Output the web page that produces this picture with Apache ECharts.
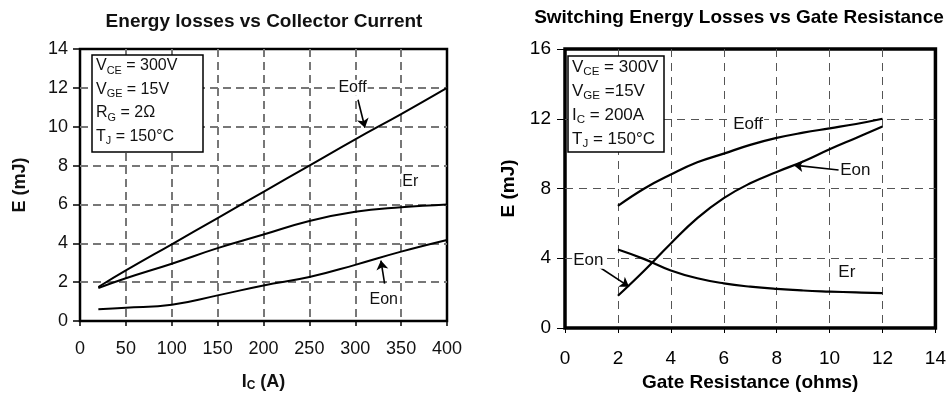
<!DOCTYPE html>
<html>
<head>
<meta charset="utf-8">
<script src="https://cdn.jsdelivr.net/npm/echarts@6/dist/echarts.min.js"></script>
<style>
  html, body { margin: 0; padding: 0; background: #fff; }
  #chart { width: 949px; height: 397px; }
</style>
</head>
<body>
<div id="chart"></div>
<script>
// left chart: energy vs collector current
var currentA = [20, 50, 100, 150, 200, 250, 300, 350, 400];
var leftEoff = [1.75, 2.6, 3.95, 5.3, 6.65, 8.0, 9.35, 10.65, 12.0];
var leftEr = [1.7, 2.2, 2.95, 3.75, 4.45, 5.15, 5.62, 5.85, 6.0];
var leftEon = [0.6, 0.68, 0.84, 1.32, 1.83, 2.26, 2.89, 3.57, 4.17];

// right chart: energy vs gate resistance
var gateOhms = [2, 3, 4, 5, 6, 7, 8, 9, 10, 11, 12];
var rightEoff = [7.0, 8.0, 8.8, 9.5, 10.0, 10.5, 10.9, 11.2, 11.45, 11.7, 12.0];
var rightEon = [1.85, 3.3, 4.85, 6.3, 7.45, 8.3, 8.95, 9.55, 10.25, 10.9, 11.55];
var rightEr = [4.5, 3.95, 3.3, 2.85, 2.56, 2.37, 2.24, 2.15, 2.09, 2.04, 2.0];

// curve labels and arrows (data coordinates)
var leftLabels = [['Eoff', 297, 12.0], ['Er', 360, 7.2], ['Eon', 331, 1.12]];
var leftArrows = [[[303, 11.39], [310.6, 9.95]], [[332, 1.92], [328, 3.11]]];
var rightLabels = [['Eoff', 6.92, 11.7], ['Eon', 10.97, 9.06], ['Eon', 0.88, 3.88], ['Er', 10.65, 3.22]];
var rightArrows = [[[10.34, 9.06], [8.65, 9.34]], [[1.25, 3.54], [2.42, 2.37]]];

// test conditions: [symbol, subscript, rest]
var leftCond = [['V', 'CE', ' = 300V'], ['V', 'GE', ' = 15V'], ['R', 'G', ' = 2Ω'], ['T', 'J', ' = 150°C']];
var rightCond = [['V', 'CE', ' = 300V'], ['V', 'GE', ' =15V'], ['I', 'C', ' = 200A'], ['T', 'J', ' = 150°C']];

var FONT = 'Liberation Sans, Arial, sans-serif';

function toPairs(xs, ys) {
	return xs.map(function(x, i) { return [x, ys[i]]; });
}

function curve(name, idx, xs, ys, width) {
	return {
		name: name,
		type: 'line',
		xAxisIndex: idx,
		yAxisIndex: idx,
		data: toPairs(xs, ys),
		smooth: 0.45,
		showSymbol: false,
		lineStyle: { color: '#000', width: width },
		z: 3
	};
}

function marks(labels, arrows, size) {
	return {
		markPoint: {
			symbol: 'circle',
			symbolSize: 1,
			itemStyle: { color: 'transparent' },
			label: {
				show: true,
				position: 'inside',
				formatter: '{b}',
				color: '#111',
				fontSize: size,
				fontFamily: FONT,
				backgroundColor: '#fff',
				padding: [0, 1]
			},
			data: labels.map(function(l) { return { name: l[0], coord: [l[1], l[2]] }; })
		},
		markLine: {
			silent: true,
			symbol: ['none', 'arrow'],
			symbolSize: 9,
			lineStyle: { color: '#000', width: 1.6, type: 'solid' },
			label: { show: false },
			data: arrows.map(function(a) { return [{ coord: a[0] }, { coord: a[1] }]; })
		}
	};
}

function condBox(x, y, w, h, lines, step, size) {
	var children = [{
		type: 'rect',
		z: 100,
		shape: { x: 0, y: 0, width: w, height: h },
		style: { fill: '#fff', stroke: '#000', lineWidth: 1.5 }
	}];
	lines.forEach(function(l, i) {
		children.push({
			type: 'text',
			z: 101,
			x: 4,
			y: 11 + i * step,
			style: {
				text: '{n|' + l[0] + '}{s|' + l[1] + '}{n|' + l[2] + '}',
				verticalAlign: 'middle',
				rich: {
					n: { fontSize: size, fontFamily: FONT, fill: '#111', lineHeight: 20 },
					s: { fontSize: size * 0.68, fontFamily: FONT, fill: '#111', lineHeight: 20, padding: [9, 0, 0, 0] }
				}
			}
		});
	});
	return { type: 'group', x: x, y: y, z: 100, children: children };
}

var axisTextL = { color: '#111', fontSize: 18, fontFamily: FONT };
var axisTextR = { color: '#000', fontSize: 19, fontFamily: FONT };
var nameTextL = { color: '#111', fontSize: 18, fontWeight: 'bold', fontFamily: FONT };
var nameTextR = { color: '#000', fontSize: 19, fontWeight: 'bold', fontFamily: FONT };

var left = marks(leftLabels, leftArrows, 16);
var right = marks(rightLabels, rightArrows, 17);

var eoffL = curve('Eoff', 0, currentA, leftEoff, 2);
eoffL.markPoint = left.markPoint;
eoffL.markLine = left.markLine;
var eoffR = curve('Eoff', 1, gateOhms, rightEoff, 2.2);
eoffR.markPoint = right.markPoint;
eoffR.markLine = right.markLine;

var splitL = { show: true, showMinLine: false, showMaxLine: false, lineStyle: { color: '#777', width: 2, type: [8, 5] } };
var splitR = { show: true, showMinLine: false, showMaxLine: false, lineStyle: { color: '#555', width: 1, type: [8, 6] } };

var option = {
	animation: false,
	backgroundColor: '#fff',
	grid: [
		{ left: 80, top: 49, width: 367, height: 273.5, show: true, borderColor: '#000', borderWidth: 2.5 },
		{ left: 565, top: 49, width: 372, height: 283, show: true, borderColor: '#000', borderWidth: 3.5 }
	],
	xAxis: [{
		gridIndex: 0, type: 'value', min: 0, max: 400, interval: 50,
		name: '{b|I}{s|C}{b| (A)}', nameLocation: 'middle', nameGap: 51,
		nameTextStyle: {
			rich: {
				b: nameTextL,
				s: { color: '#111', fontSize: 12, fontWeight: 'bold', fontFamily: FONT, padding: [8, 0, 0, 0] }
			}
		},
		axisLine: { show: false },
		axisTick: { show: true, length: 5, lineStyle: { color: '#000', width: 1.5 } },
		axisLabel: Object.assign({ margin: 19 }, axisTextL),
		splitLine: splitL
	}, {
		gridIndex: 1, type: 'value', min: 0, max: 14, interval: 2,
		name: 'Gate Resistance (ohms)', nameLocation: 'middle', nameGap: 45,
		nameTextStyle: nameTextR,
		axisLine: { show: false },
		axisTick: { show: true, length: 5, lineStyle: { color: '#000', width: 1 } },
		axisLabel: Object.assign({ margin: 21 }, axisTextR),
		splitLine: splitR
	}],
	yAxis: [{
		gridIndex: 0, type: 'value', min: 0, max: 14, interval: 2,
		name: 'E (mJ)', nameLocation: 'middle', nameGap: 51,
		nameTextStyle: nameTextL,
		axisLine: { show: false },
		axisTick: { show: true, length: 7, lineStyle: { color: '#000', width: 1.5 } },
		axisLabel: Object.assign({ margin: 12 }, axisTextL),
		splitLine: splitL
	}, {
		gridIndex: 1, type: 'value', min: 0, max: 16, interval: 4,
		name: 'E (mJ)', nameLocation: 'middle', nameGap: 47,
		nameTextStyle: nameTextR,
		axisLine: { show: false },
		axisTick: { show: true, length: 8, lineStyle: { color: '#000', width: 1 } },
		axisLabel: Object.assign({ margin: 14 }, axisTextR),
		splitLine: splitR
	}],
	graphic: [
		{ type: 'text', x: 264, y: 22, z: 100, style: { text: 'Energy losses vs Collector Current', fontSize: 19, fontWeight: 'bold', fontFamily: FONT, fill: '#111', align: 'center', verticalAlign: 'middle' } },
		{ type: 'text', x: 739, y: 18, z: 100, style: { text: 'Switching Energy Losses vs Gate Resistance', fontSize: 19, fontWeight: 'bold', fontFamily: FONT, fill: '#000', align: 'center', verticalAlign: 'middle' } },
		condBox(92, 55, 111, 97, leftCond, 23.5, 16),
		condBox(568, 56, 96, 96, rightCond, 24, 17)
	],
	series: [
		eoffL,
		curve('Er', 0, currentA, leftEr, 2),
		curve('Eon', 0, currentA, leftEon, 2),
		eoffR,
		curve('Eon', 1, gateOhms, rightEon, 2.2),
		curve('Er', 1, gateOhms, rightEr, 2.2)
	]
};

var chart = echarts.init(document.getElementById('chart'));
chart.setOption(option);
</script>
</body>
</html>
